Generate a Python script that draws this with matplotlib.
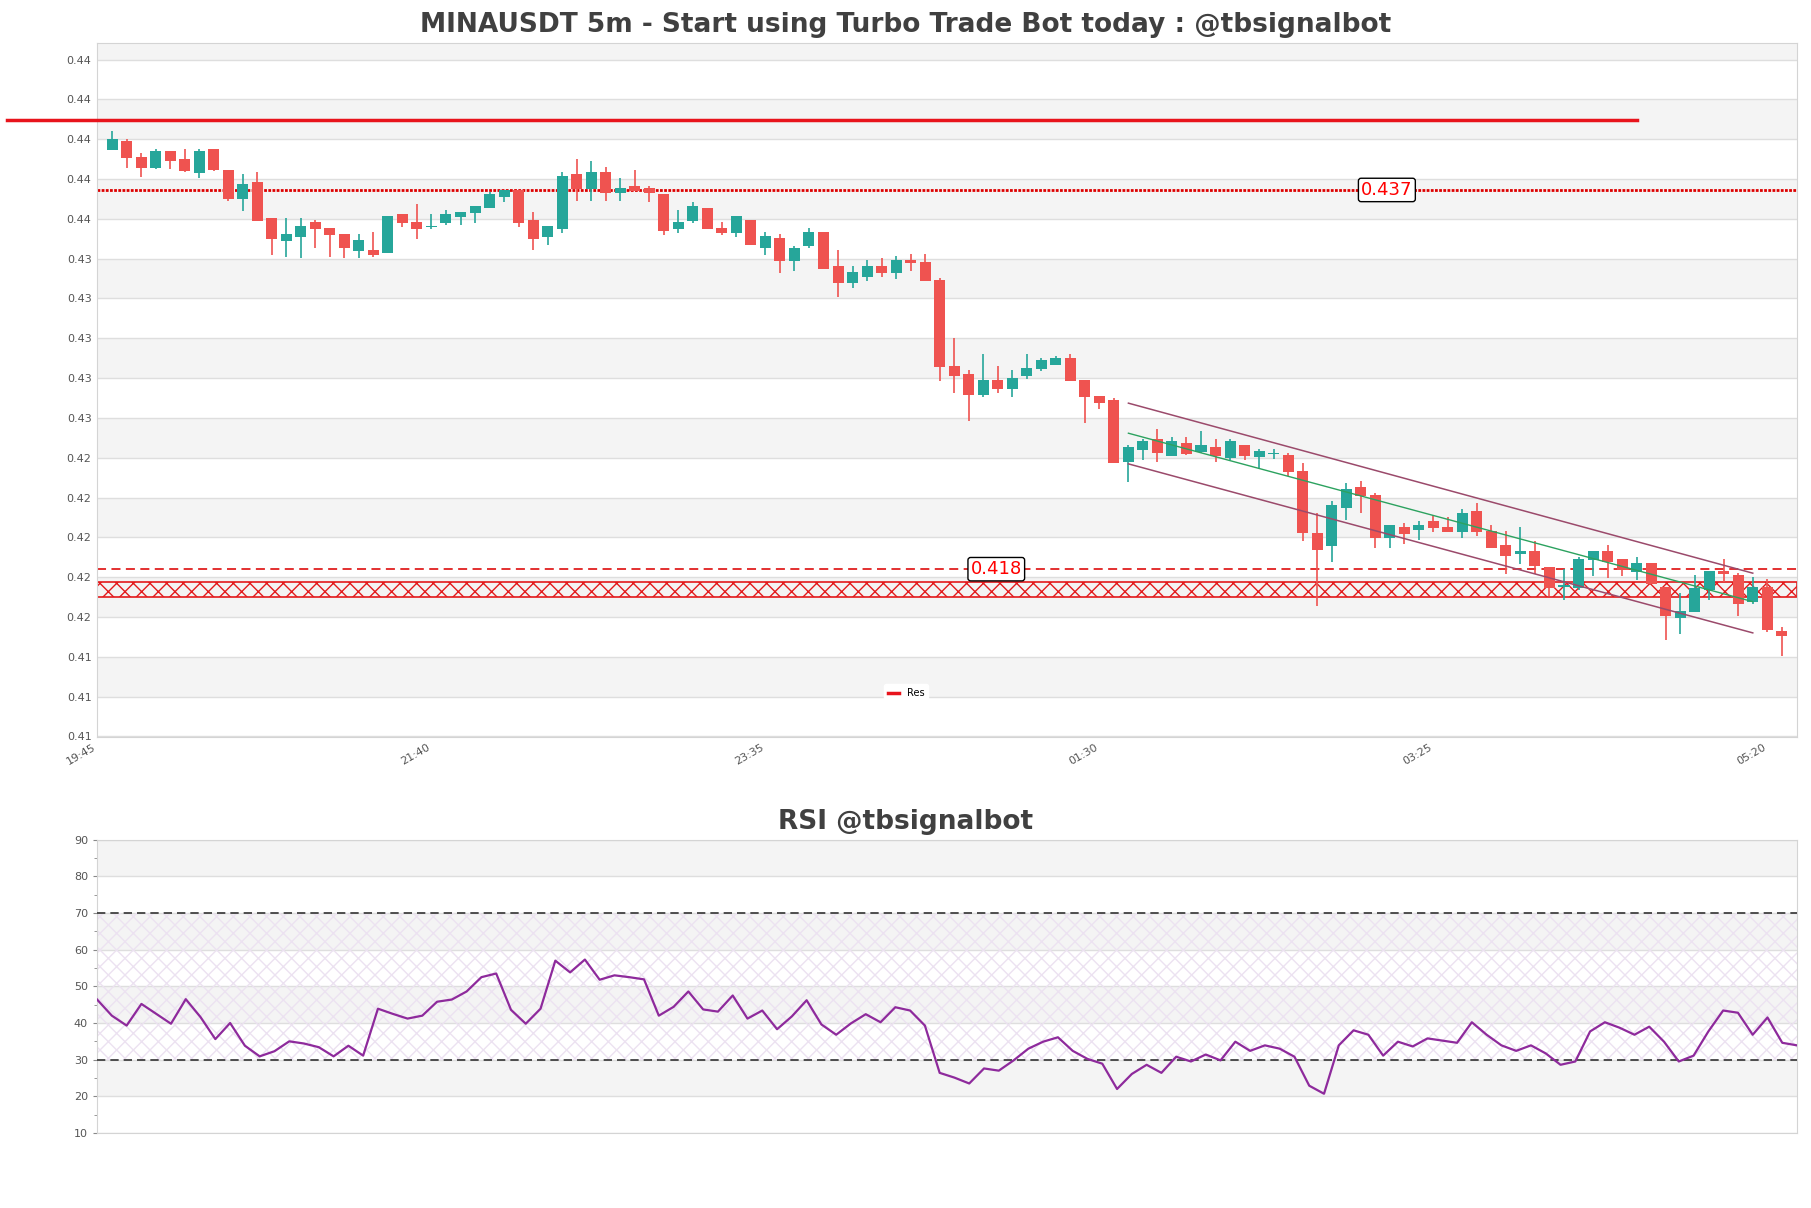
import matplotlib
matplotlib.use('Agg')
import matplotlib.pyplot as plt
from matplotlib.ticker import MultipleLocator
import numpy as np

# 5m candles, 19:50 -> 05:30
opens = [0.43948, 0.43993, 0.43911, 0.43857, 0.43941, 0.43901, 0.43832, 0.43951, 0.43846, 0.43702,
         0.43784, 0.43605, 0.43491, 0.43511, 0.43585, 0.43554, 0.43524, 0.43440, 0.43444, 0.43430,
         0.43625, 0.43585, 0.43561, 0.43581, 0.43611, 0.43631, 0.43652, 0.43712, 0.43745, 0.43595,
         0.43511, 0.43551, 0.43826, 0.43752, 0.43836, 0.43732, 0.43765, 0.43755, 0.43725, 0.43551,
         0.43591, 0.43655, 0.43554, 0.43531, 0.43595, 0.43451, 0.43504, 0.43390, 0.43461, 0.43534,
         0.43363, 0.43280, 0.43310, 0.43363, 0.43330, 0.43394, 0.43384, 0.43293, 0.42861, 0.42821,
         0.42717, 0.42791, 0.42747, 0.42808, 0.42848, 0.42868, 0.42901, 0.42791, 0.42710, 0.42690,
         0.42379, 0.42439, 0.42493, 0.42409, 0.42473, 0.42429, 0.42453, 0.42399, 0.42463, 0.42402,
         0.42419, 0.42416, 0.42335, 0.42020, 0.41957, 0.42148, 0.42252, 0.42213, 0.41999, 0.42052,
         0.42039, 0.42082, 0.42052, 0.42029, 0.42133, 0.42032, 0.41962, 0.41918, 0.41932, 0.41851,
         0.41751, 0.41747, 0.41888, 0.41932, 0.41891, 0.41828, 0.41871, 0.41751, 0.41597, 0.41627,
         0.41734, 0.41831, 0.41811, 0.41677, 0.41751, 0.41530]
highs = [0.44042, 0.44000, 0.43930, 0.43951, 0.43941, 0.43951, 0.43951, 0.43951, 0.43846, 0.43826,
         0.43836, 0.43605, 0.43605, 0.43605, 0.43595, 0.43554, 0.43524, 0.43524, 0.43534, 0.43615,
         0.43625, 0.43675, 0.43625, 0.43645, 0.43635, 0.43665, 0.43735, 0.43745, 0.43745, 0.43633,
         0.43564, 0.43836, 0.43901, 0.43891, 0.43859, 0.43806, 0.43846, 0.43765, 0.43725, 0.43645,
         0.43685, 0.43655, 0.43585, 0.43615, 0.43595, 0.43534, 0.43524, 0.43464, 0.43554, 0.43534,
         0.43444, 0.43363, 0.43394, 0.43404, 0.43414, 0.43424, 0.43424, 0.43303, 0.43000, 0.42841,
         0.42921, 0.42861, 0.42841, 0.42921, 0.42901, 0.42911, 0.42921, 0.42791, 0.42710, 0.42700,
         0.42466, 0.42496, 0.42543, 0.42506, 0.42506, 0.42536, 0.42493, 0.42496, 0.42463, 0.42446,
         0.42442, 0.42426, 0.42375, 0.42121, 0.42181, 0.42272, 0.42285, 0.42221, 0.42062, 0.42072,
         0.42082, 0.42113, 0.42102, 0.42143, 0.42173, 0.42062, 0.42032, 0.42052, 0.41982, 0.41851,
         0.41841, 0.41901, 0.41932, 0.41962, 0.41891, 0.41901, 0.41871, 0.41751, 0.41721, 0.41811,
         0.41831, 0.41891, 0.41821, 0.41801, 0.41791, 0.41550]
lows = [0.43948, 0.43857, 0.43812, 0.43849, 0.43849, 0.43834, 0.43804, 0.43842, 0.43692, 0.43641,
        0.43591, 0.43420, 0.43410, 0.43402, 0.43451, 0.43410, 0.43402, 0.43402, 0.43410, 0.43430,
        0.43561, 0.43501, 0.43551, 0.43571, 0.43571, 0.43581, 0.43652, 0.43682, 0.43561, 0.43441,
        0.43471, 0.43531, 0.43692, 0.43692, 0.43692, 0.43692, 0.43742, 0.43682, 0.43521, 0.43531,
        0.43581, 0.43551, 0.43521, 0.43511, 0.43471, 0.43420, 0.43330, 0.43340, 0.43451, 0.43350,
        0.43209, 0.43250, 0.43290, 0.43310, 0.43300, 0.43340, 0.43290, 0.42787, 0.42727, 0.42586,
        0.42707, 0.42727, 0.42707, 0.42797, 0.42838, 0.42868, 0.42787, 0.42576, 0.42647, 0.42372,
        0.42278, 0.42389, 0.42379, 0.42409, 0.42412, 0.42426, 0.42379, 0.42389, 0.42389, 0.42345,
        0.42392, 0.42308, 0.41980, 0.41655, 0.41876, 0.42087, 0.42121, 0.41948, 0.41948, 0.41968,
        0.41989, 0.42029, 0.42029, 0.41999, 0.42009, 0.41948, 0.41818, 0.41868, 0.41818, 0.41707,
        0.41687, 0.41737, 0.41808, 0.41798, 0.41808, 0.41788, 0.41767, 0.41486, 0.41516, 0.41627,
        0.41687, 0.41774, 0.41607, 0.41667, 0.41526, 0.41406]
closes = [0.44002, 0.43908, 0.43857, 0.43941, 0.43888, 0.43842, 0.43941, 0.43847, 0.43702, 0.43775,
          0.43591, 0.43501, 0.43524, 0.43564, 0.43551, 0.43521, 0.43451, 0.43494, 0.43420, 0.43615,
          0.43581, 0.43551, 0.43566, 0.43625, 0.43635, 0.43665, 0.43725, 0.43745, 0.43581, 0.43501,
          0.43564, 0.43816, 0.43749, 0.43836, 0.43732, 0.43755, 0.43742, 0.43732, 0.43541, 0.43585,
          0.43665, 0.43551, 0.43531, 0.43615, 0.43471, 0.43514, 0.43390, 0.43454, 0.43534, 0.43350,
          0.43280, 0.43333, 0.43363, 0.43330, 0.43394, 0.43380, 0.43290, 0.42858, 0.42808, 0.42717,
          0.42791, 0.42747, 0.42801, 0.42851, 0.42891, 0.42901, 0.42787, 0.42707, 0.42677, 0.42375,
          0.42456, 0.42486, 0.42422, 0.42486, 0.42419, 0.42466, 0.42409, 0.42486, 0.42409, 0.42436,
          0.42422, 0.42329, 0.42020, 0.41937, 0.42161, 0.42245, 0.42208, 0.41999, 0.42062, 0.42019,
          0.42062, 0.42049, 0.42029, 0.42123, 0.42029, 0.41948, 0.41908, 0.41932, 0.41858, 0.41747,
          0.41761, 0.41891, 0.41932, 0.41878, 0.41838, 0.41871, 0.41767, 0.41607, 0.41630, 0.41744,
          0.41831, 0.41818, 0.41667, 0.41751, 0.41536, 0.41506]

rsi = [46.4, 42.0, 39.3, 45.2, 42.5, 39.8, 46.5, 41.6, 35.6, 40.0,
       33.8, 30.9, 32.3, 35.0, 34.4, 33.4, 30.9, 33.8, 31.1, 43.9,
       42.5, 41.2, 42.0, 45.8, 46.4, 48.6, 52.5, 53.5, 43.6, 39.8,
       43.9, 57.0, 53.8, 57.3, 51.8, 53.0, 52.5, 51.9, 42.0, 44.4,
       48.6, 43.7, 43.1, 47.5, 41.2, 43.4, 38.3, 41.8, 46.2, 39.6,
       36.8, 39.9, 42.4, 40.2, 44.3, 43.4, 39.3, 26.4, 25.1, 23.5,
       27.6, 27.0, 29.8, 33.0, 34.9, 36.1, 32.4, 30.2, 28.9, 22.0,
       26.1, 28.6, 26.4, 30.8, 29.5, 31.4, 29.8, 34.9, 32.4, 33.9,
       33.0, 30.8, 22.9, 20.7, 33.9, 38.0, 36.8, 31.1, 34.9, 33.6,
       35.8, 35.2, 34.6, 40.2, 36.8, 33.9, 32.4, 33.9, 31.7, 28.6,
       29.5, 37.7, 40.2, 38.7, 36.8, 39.0, 34.9, 29.5, 31.1, 37.7,
       43.4, 42.8, 36.8, 41.5, 34.6, 33.9]

tick_labels = ['19:45', '21:40', '23:35', '01:30', '03:25', '05:20']

res_price = 0.44096
res_from, res_to = -7.2, 105.0
level_hi = 0.43745
level_lo = 0.41840
zone_lo, zone_hi = 0.41702, 0.41777
chan_x = [70, 113]
chan_upper = [0.42674, 0.41820]
chan_mid = [0.42523, 0.41677]
chan_lower = [0.42369, 0.41520]

title = 'MINAUSDT 5m - Start using Turbo Trade Bot today : @tbsignalbot'
gray_txt = '#404040'
band = '#f4f4f4'
gridc = '#dedede'
spinec = '#d4d4d4'

fig = plt.figure(figsize=(18.11, 12.08), dpi=100)
ax = fig.add_axes([0.0536, 0.3899, 0.9387, 0.5748])
ax2 = fig.add_axes([0.0536, 0.0621, 0.9387, 0.2428])

# ---- price panel
o = np.array(opens); h = np.array(highs); l = np.array(lows); c = np.array(closes)
x = np.arange(len(o))
col = np.where(c >= o, '#26a69a', '#ef5350')

ax.set_xlim(-1.03, 116.05)
ax.set_ylim(0.40997, 0.44485)
yt = np.arange(0.410, 0.4445, 0.002)
ax.set_yticks(yt)
ax.set_yticklabels(['%.2f' % v for v in yt])
for y0 in np.arange(0.412, 0.444, 0.004):
    ax.axhspan(y0, y0 + 0.002, color=band, zorder=0, lw=0)
ax.yaxis.grid(True, color=gridc, lw=1)
ax.set_axisbelow(True)

ax.vlines(x, l, h, colors=col, lw=1.2, zorder=3)
ax.bar(x, np.maximum(np.abs(c - o), 0.00003), bottom=np.minimum(o, c), width=0.76,
       color=col, zorder=4)

ax.plot([res_from, res_to], [res_price, res_price], color='#e8141c', lw=2.5,
        clip_on=False, label='Res', zorder=5)
ax.axhline(level_hi, color='#dd0000', lw=2, ls=(0, (1, 0.5)), zorder=2)
ax.axhline(level_lo, color='#e02020', lw=1.3, ls=(0, (5, 3)), zorder=2)
ax.axhspan(zone_lo, zone_hi, facecolor='none', edgecolor='#e31a1c', hatch='xx', lw=1.2, zorder=2)

box = dict(boxstyle='round,pad=0.15', fc='white', ec='black', lw=1)
ax.text(87.8, level_hi, '%.3f' % level_hi, color='red', fontsize=13, ha='center', va='center',
        bbox=box, zorder=6)
ax.text(60.9, level_lo, '%.3f' % level_lo, color='red', fontsize=13, ha='center', va='center',
        bbox=box, zorder=6)

ax.plot(chan_x, chan_upper, color='#9b4a6b', lw=1.1, zorder=5)
ax.plot(chan_x, chan_lower, color='#9b4a6b', lw=1.1, zorder=5)
ax.plot(chan_x, chan_mid, color='#2ca25f', lw=1.0, zorder=5)

ax.set_xticks([-1 + 23 * k for k in range(len(tick_labels))])
ax.set_xticklabels(tick_labels, rotation=30, ha='right')
ax.tick_params(axis='both', length=0, labelsize=8, labelcolor='#555555', pad=4)
for s in ax.spines.values():
    s.set_color(spinec)
ax.legend(loc='center', bbox_to_anchor=(0.476, 0.063), fontsize=7, frameon=True,
          edgecolor='white', framealpha=1, handlelength=1.1)

# ---- RSI panel
ax2.set_xlim(0, len(rsi) - 1)
ax2.set_ylim(10, 90)
for y0 in [20, 40, 60, 80]:
    ax2.axhspan(y0, y0 + 10, color=band, zorder=0, lw=0)
ax2.axhspan(30, 70, facecolor='none', edgecolor='#ece2f1', hatch='xx', lw=0, zorder=1)
ax2.yaxis.set_major_locator(MultipleLocator(10))
ax2.yaxis.set_minor_locator(MultipleLocator(5))
ax2.yaxis.grid(True, which='major', color=gridc, lw=1)
ax2.set_axisbelow(True)
ax2.axhline(30, color='#333333', lw=1.2, ls=(0, (5, 3)), zorder=3)
ax2.axhline(70, color='#333333', lw=1.2, ls=(0, (5, 3)), zorder=3)
ax2.plot(np.arange(len(rsi)), rsi, color='#8e2a9c', lw=1.6, zorder=4)
ax2.set_xticks([])
ax2.tick_params(axis='y', which='major', length=3, labelsize=8, labelcolor='#555555', color='#888888')
ax2.tick_params(axis='y', which='minor', length=2, color='#888888')
for s in ax2.spines.values():
    s.set_color(spinec)

# titles centred on the figure
fig.text(0.5, 0.979, title, fontsize=19, fontweight='bold', color=gray_txt, ha='center', va='center')
fig.text(0.5, 0.3195, 'RSI @tbsignalbot', fontsize=19, fontweight='bold', color=gray_txt,
         ha='center', va='center')

fig.savefig('out.png', dpi=100)
